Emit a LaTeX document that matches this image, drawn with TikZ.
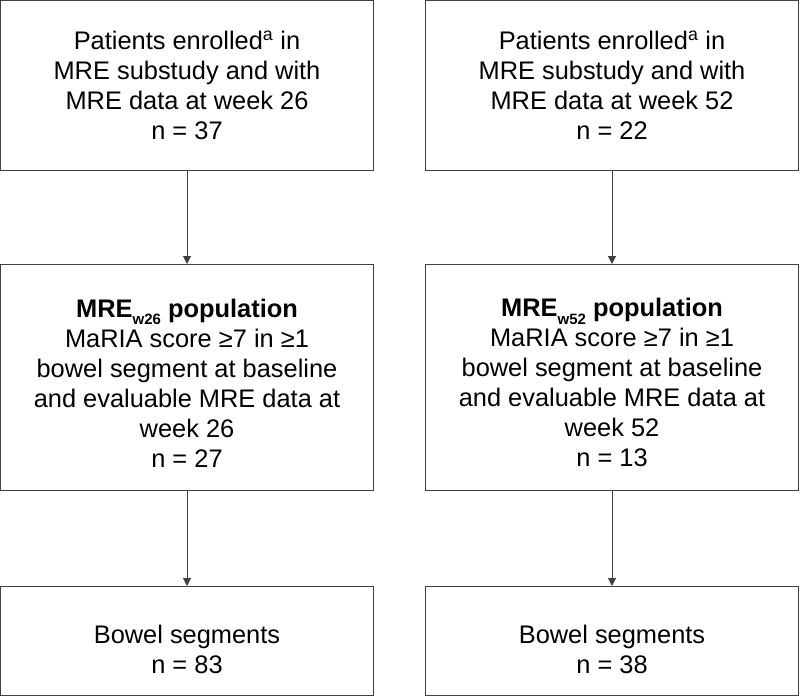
\documentclass[tikz,border=0pt]{standalone}
\usepackage{fontspec}
\setmainfont{Liberation Sans}
\usetikzlibrary{positioning,arrows.meta}

\newcommand{\wsub}[1]{\raisebox{-0.3em}{\fontsize{15}{15}\selectfont #1}}

\begin{document}
\begin{tikzpicture}[
  x=1pt, y=1pt,
  font=\fontsize{25.4}{30}\selectfont,
  >={Triangle[width=8pt,length=8pt]},
  node distance=94pt and 52pt,
  every node/.style={align=center},
  flowbox/.style={draw=black!75, line width=1pt, fill=white, outer sep=0pt,
                  inner sep=0pt, minimum width=373pt, minimum height=#1},
  arr/.style={->, draw=black!75, line width=1pt},
]
\useasboundingbox (0,0) rectangle (800,-696);

% --- Left column: week 26 ---
\node[flowbox=169.5pt, anchor=north west] (enr26) at (0.5,-0.5) {%
  Patients enrolled\textsuperscript{a} in\\
  MRE substudy and with\\
  MRE data at week 26\\
  n = 37%
};
\node[flowbox=226pt, below=of enr26] (pop26) {%
  \rule{0pt}{30pt}\textbf{MRE\wsub{w26} population}\\
  MaRIA score ≥7 in ≥1\\
  bowel segment at baseline\\
  and evaluable MRE data at\\
  week 26\\
  n = 27%
};
\node[flowbox=109pt, below=96pt of pop26] (seg26) {%
  \rule{0pt}{36pt}Bowel segments\\
  n = 83%
};

% --- Right column: week 52 ---
\node[flowbox=169.5pt, right=of enr26] (enr52) {%
  Patients enrolled\textsuperscript{a} in\\
  MRE substudy and with\\
  MRE data at week 52\\
  n = 22%
};
\node[flowbox=226pt, below=of enr52] (pop52) {%
  \rule{0pt}{30pt}\textbf{MRE\wsub{w52} population}\\
  MaRIA score ≥7 in ≥1\\
  bowel segment at baseline\\
  and evaluable MRE data at\\
  week 52\\
  n = 13%
};
\node[flowbox=109pt, below=96pt of pop52] (seg52) {%
  \rule{0pt}{36pt}Bowel segments\\
  n = 38%
};

% --- Arrows ---
\draw[arr] (enr26) -- (pop26);
\draw[arr] (pop26) -- (seg26);
\draw[arr] (enr52) -- (pop52);
\draw[arr] (pop52) -- (seg52);

\end{tikzpicture}
\end{document}
